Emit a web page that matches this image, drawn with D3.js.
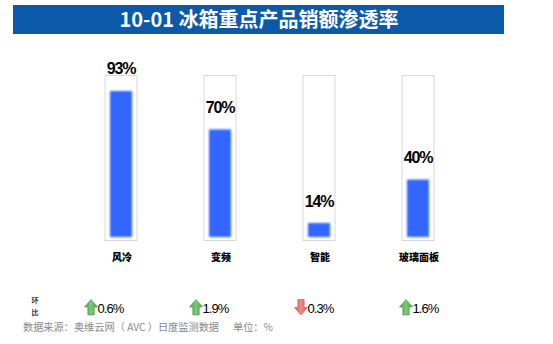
<!DOCTYPE html>
<html><head><meta charset="utf-8">
<script src="https://cdn.jsdelivr.net/npm/d3@7"></script>
<style>html,body{margin:0;padding:0;background:#fff;}svg{display:block;}</style>
</head><body>
<script>
const title = "10-01 冰箱重点产品销额渗透率";
const categories = ["风冷", "变频", "智能", "玻璃面板"];
const shareValues = [93, 70, 14, 40];
const momValues = [0.6, 1.9, -0.3, 1.6];
const momLabel = ["环", "比"];
const sourceText = "数据来源：奥维云网（ AVC ）日度监测数据";
const unitText = "单位：%";

const W = 553, H = 344;
const svg = d3.select("body").append("svg").attr("width", W).attr("height", H);
const defs = svg.append("defs");
defs.append("filter").attr("id", "glow").attr("x", "-30%").attr("y", "-30%").attr("width", "160%").attr("height", "160%")
  .append("feGaussianBlur").attr("stdDeviation", 1.1);
const gUp = defs.append("linearGradient").attr("id", "gup").attr("x1", 0).attr("x2", 1).attr("y1", 0).attr("y2", 0);
gUp.append("stop").attr("offset", "0%").attr("stop-color", "#4f9e4f");
gUp.append("stop").attr("offset", "50%").attr("stop-color", "#7cc97a");
gUp.append("stop").attr("offset", "100%").attr("stop-color", "#4f9e4f");
const gDn = defs.append("linearGradient").attr("id", "gdn").attr("x1", 0).attr("x2", 1).attr("y1", 0).attr("y2", 0);
gDn.append("stop").attr("offset", "0%").attr("stop-color", "#d95a58");
gDn.append("stop").attr("offset", "50%").attr("stop-color", "#f08a86");
gDn.append("stop").attr("offset", "100%").attr("stop-color", "#d95a58");

// title bar
svg.append("rect").attr("x", 13).attr("y", 5).attr("width", 491).attr("height", 29).attr("fill", "#0B5AA9");
svg.append("text").attr("x", 259).attr("y", 27).attr("text-anchor", "middle")
  .attr("font-family", "'Noto Sans CJK SC', 'Noto Sans', sans-serif").attr("font-weight", "bold")
  .attr("font-size", 20).attr("fill", "#fff").text(title);

// scales
const x = d3.scalePoint().domain(categories).range([121, 418]);
const y = d3.scaleLinear().domain([0, 100]).range([246.4, 79.3]);
const baseY = 237;

const g = svg.append("g");
categories.forEach((c, i) => {
  const cx = x(c), v = shareValues[i];
  g.append("rect").attr("x", cx - 16).attr("y", 75.5).attr("width", 32).attr("height", 165)
    .attr("fill", "#fff").attr("stroke", "#d9d9d9").attr("stroke-width", 1);
  g.append("rect").attr("x", cx - 11).attr("y", y(v)).attr("width", 22).attr("height", baseY - y(v))
    .attr("fill", "#3366FF").attr("filter", "url(#glow)");
  g.append("text").attr("x", cx).attr("y", y(v) - 16.5).attr("text-anchor", "middle")
    .attr("font-family", "'Liberation Sans', Arial, sans-serif").attr("font-weight", "bold")
    .attr("font-size", 16).attr("letter-spacing", -1.2).attr("fill", "#000").text(v + "%");
  g.append("text").attr("x", cx + 1).attr("y", 261).attr("text-anchor", "middle")
    .attr("font-family", "'Noto Sans CJK SC', sans-serif").attr("font-weight", 900)
    .attr("font-size", 10).attr("fill", "#000").text(c);
});

// MoM row
momLabel.forEach((t, i) => {
  svg.append("text").attr("x", 35).attr("y", 302.5 + i * 12.5).attr("text-anchor", "middle")
    .attr("font-family", "'Noto Sans CJK SC', sans-serif").attr("font-weight", "bold")
    .attr("font-size", 7).attr("fill", "#333").text(t);
});
const fx = d3.scalePoint().domain(categories).range([91, 406]);
categories.forEach((c, i) => {
  const v = momValues[i], ax = fx(c), up = v >= 0;
  const top = 299.5, bot = 315, hw = 6.5, sw = 3.2, hh = 7.5;
  let pts;
  if (up) pts = [[ax, top], [ax + hw, top + hh], [ax + sw, top + hh], [ax + sw, bot], [ax - sw, bot], [ax - sw, top + hh], [ax - hw, top + hh]];
  else pts = [[ax, bot], [ax + hw, bot - hh], [ax + sw, bot - hh], [ax + sw, top], [ax - sw, top], [ax - sw, bot - hh], [ax - hw, bot - hh]];
  svg.append("path").attr("d", d3.line()(pts) + "Z")
    .attr("fill", up ? "url(#gup)" : "url(#gdn)")
    .attr("stroke", up ? "#4a944a" : "#d05352").attr("stroke-width", 0.6);
  svg.append("text").attr("x", ax + 6.5).attr("y", 312.5)
    .attr("font-family", "'Liberation Sans', Arial, sans-serif").attr("font-size", 13)
    .attr("letter-spacing", -0.9).attr("fill", "#000").text(Math.abs(v).toFixed(1) + "%");
});

// source
svg.append("text").attr("x", 23).attr("y", 330.5)
  .attr("font-family", "'Noto Sans CJK SC', sans-serif").attr("font-size", 10.2).attr("fill", "#8a8a8a").text(sourceText);
svg.append("text").attr("x", 233).attr("y", 330.5)
  .attr("font-family", "'Noto Sans CJK SC', sans-serif").attr("font-size", 10.2).attr("fill", "#8a8a8a").text(unitText);
</script>
</body></html>
